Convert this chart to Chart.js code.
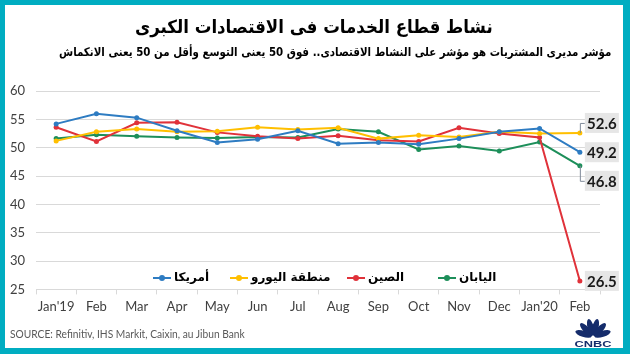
<!DOCTYPE html>
<html>
<head>
<meta charset="utf-8">
<script src="https://cdn.jsdelivr.net/npm/chart.js@4.4.1/dist/chart.umd.min.js"></script>
<style>
  body { margin: 0; background: #fff; }
  #wrap { position: relative; width: 630px; height: 354px; overflow: hidden; background: #fff; }
  #c { position: absolute; left: 0; top: 0; }
  #frame { position: absolute; left: 0; top: 0; width: 630px; height: 354px; box-sizing: border-box;
    border: 5px solid #00adc1; border-right-width: 7px; border-bottom-width: 6px; pointer-events: none; }
  .fit { position: absolute; white-space: nowrap; transform-origin: 0 50%; direction: rtl; unicode-bidi: plaintext; }
  #title { font: bold 18px "DejaVu Sans"; color: #000; }
  #sub { font: bold 12px "DejaVu Sans"; color: #000; }
  #source { position: absolute; left: 10px; top: 327px; font: 11px "Lato"; color: #595959; white-space: nowrap; transform-origin: 0 50%; }
  .leg { position: absolute; height: 16px; }
  .leg .mk { position: absolute; left: 0; top: 7px; width: 18px; height: 2px; }
  .leg .dot { position: absolute; left: 6px; top: -2px; width: 6px; height: 6px; border-radius: 50%; }
  .leg .tx { position: absolute; top: 0; white-space: nowrap; font: bold 12px "DejaVu Sans"; color: #000; direction: rtl; transform-origin: 0 50%; }
  #logo { position: absolute; left: 573px; top: 316px; }
</style>
</head>
<body>
<div id="wrap">
  <canvas id="c" width="630" height="354"></canvas>
  <div id="title" class="fit">نشاط قطاع الخدمات فى الاقتصادات الكبرى</div>
  <div id="sub" class="fit">مؤشر مديرى المشتريات هو مؤشر على النشاط الاقتصادى.. فوق 50 يعنى التوسع وأقل من 50 يعنى الانكماش</div>
  <div id="legend"></div>
  <div id="source">SOURCE: Refinitiv, IHS Markit, Caixin, au Jibun Bank</div>
  <svg id="logo" width="40" height="32" viewBox="0 0 40 32"></svg>
  <div id="frame"></div>
</div>
<script>
const months = ["Jan'19", "Feb", "Mar", "Apr", "May", "Jun", "Jul", "Aug", "Sep", "Oct", "Nov", "Dec", "Jan'20", "Feb"];
const usa = [54.2, 56.0, 55.3, 53.0, 50.9, 51.5, 53.0, 50.7, 50.9, 50.6, 51.6, 52.8, 53.4, 49.2];
const euro = [51.2, 52.8, 53.3, 52.8, 52.9, 53.6, 53.2, 53.5, 51.6, 52.2, 51.9, 52.8, 52.5, 52.6];
const china = [53.6, 51.1, 54.4, 54.5, 52.7, 52.0, 51.6, 52.1, 51.3, 51.1, 53.5, 52.5, 51.8, 26.5];
const japan = [51.6, 52.3, 52.0, 51.8, 51.7, 51.9, 51.8, 53.3, 52.8, 49.7, 50.3, 49.4, 51.0, 46.8];
const seriesNames = ["أمريكا", "منطقة اليورو", "الصين", "اليابان"];
const yTicks = [25, 30, 35, 40, 45, 50, 55, 60];

const colors = ["#2e7cc2", "#ffbf00", "#e0323a", "#1d8f5a"];
const legendLeft = [153, 230, 347, 438];
// vertical shift of the end label relative to its point (px)
const labelShift = [0, -10, 0, 15];

function fit(el, left, top, width) {
  el.style.left = left + "px";
  el.style.top = top + "px";
  const w = el.offsetWidth;
  el.style.transform = "scaleX(" + (width / w) + ")";
}

fit(document.getElementById("title"), 135, 16, 358);
fit(document.getElementById("sub"), 59, 45, 552);
const src = document.getElementById("source");
src.style.transform = "scaleX(" + (235 / src.offsetWidth) + ")";

// legend
const legendDiv = document.getElementById("legend");
seriesNames.forEach((name, i) => {
  const item = document.createElement("div");
  item.className = "leg";
  item.style.left = legendLeft[i] + "px";
  item.style.top = "270px";
  item.innerHTML = `<div class="mk" style="background:${colors[i]}"><div class="dot" style="background:${colors[i]}"></div></div><div class="tx" style="left:21px">${name}</div>`;
  legendDiv.appendChild(item);
});

// logo
const svg = document.getElementById("logo");
let s = "";
[-72, -43, -14, 14, 43, 72].forEach((a) => {
  const r = a * Math.PI / 180;
  const cx = 20 + 10 * Math.sin(r);
  const cy = 21 - 10 * Math.cos(r);
  s += `<ellipse cx="${cx.toFixed(2)}" cy="${cy.toFixed(2)}" rx="3.1" ry="8.5" transform="rotate(${a} ${cx.toFixed(2)} ${cy.toFixed(2)})" fill="#152c6b"/>`;
});
s += `<text x="20" y="31" text-anchor="middle" font-family="Liberation Sans" font-weight="bold" font-size="9" textLength="37" lengthAdjust="spacingAndGlyphs" fill="#152c6b">CNBC</text>`;
svg.innerHTML = s;

const endLabels = {
  id: "endLabels",
  afterDatasetsDraw(chart) {
    const ctx = chart.ctx;
    chart.data.datasets.forEach((ds, i) => {
      const meta = chart.getDatasetMeta(i);
      const pt = meta.data[meta.data.length - 1];
      const v = ds.data[ds.data.length - 1];
      const bx = pt.x + 5, by = pt.y + labelShift[i];
      ctx.save();
      if (labelShift[i] !== 0) {
        ctx.strokeStyle = "#7f8a99";
        ctx.lineWidth = 1;
        ctx.beginPath();
        ctx.moveTo(pt.x + 0.5, pt.y);
        ctx.lineTo(pt.x + 0.5, by + 0.5);
        ctx.lineTo(bx, by + 0.5);
        ctx.stroke();
      }
      ctx.fillStyle = "#e6e6e6";
      ctx.fillRect(bx, by - 10, 34, 20);
      ctx.fillStyle = "#1a1a1a";
      ctx.font = "bold 15px Lato";
      ctx.textAlign = "center";
      ctx.textBaseline = "middle";
      ctx.fillText(v.toFixed(1), bx + 17, by + 1);
      ctx.restore();
    });
  }
};

const mk = (label, data, i) => ({
  label: label,
  data: data,
  borderColor: colors[i],
  backgroundColor: colors[i],
  borderWidth: 2,
  pointRadius: 2.5,
  pointBorderWidth: 0,
  pointBackgroundColor: colors[i],
  tension: 0
});

new Chart(document.getElementById("c"), {
  type: "line",
  data: {
    labels: months,
    datasets: [
      mk(seriesNames[0], usa, 0),
      mk(seriesNames[1], euro, 1),
      mk(seriesNames[2], china, 2),
      mk(seriesNames[3], japan, 3)
    ]
  },
  options: {
    responsive: false,
    animation: false,
    devicePixelRatio: 1,
    layout: { padding: { left: 10, right: 30, top: 91, bottom: 34 } },
    plugins: { legend: { display: false }, tooltip: { enabled: false } },
    scales: {
      x: {
        offset: true,
        grid: { offset: true, drawOnChartArea: false, drawTicks: true, tickLength: 5, color: "#d9d9d9" },
        border: { display: true, color: "#d9d9d9" },
        ticks: { autoSkip: false, maxRotation: 0, padding: 5, color: "#404040", font: { family: "Lato", size: 13 } }
      },
      y: {
        min: 25,
        max: 60,
        afterBuildTicks: (axis) => { axis.ticks = yTicks.map((v) => ({ value: v })); },
        afterFit: (axis) => { axis.width = 26; },
        grid: { color: "#d9d9d9", drawTicks: false },
        border: { display: false },
        ticks: { padding: 11, color: "#404040", font: { family: "Lato", size: 13 } }
      }
    }
  },
  plugins: [endLabels]
});
</script>
</body>
</html>
